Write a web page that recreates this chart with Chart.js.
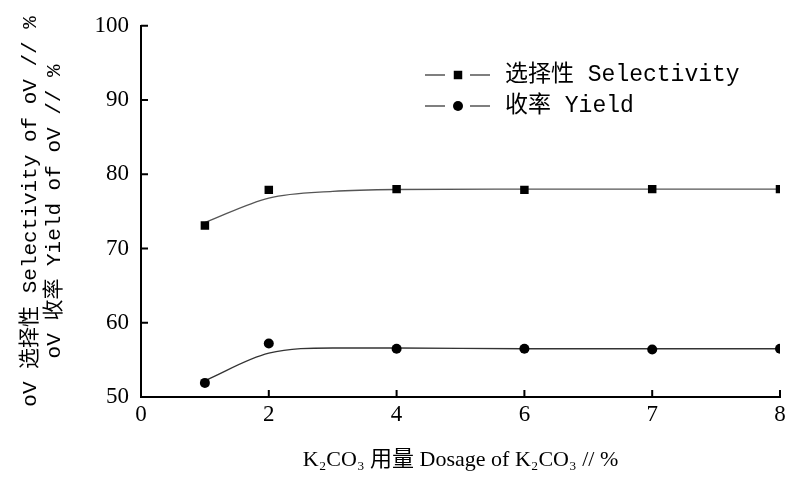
<!DOCTYPE html>
<html>
<head>
<meta charset="utf-8">
<script src="https://cdn.jsdelivr.net/npm/chart.js@4"></script>
<style>
  html, body { margin: 0; padding: 0; background: #fff; }
  #wrap { width: 792px; height: 477px; }
</style>
</head>
<body>
<div id="wrap"><canvas id="k2co3Chart" width="792" height="477"></canvas></div>
<script>
// axis labels (equally spaced on the original figure)
const xTickLabels = ["0", "2", "4", "6", "7", "8"];
const yMin = 50, yMax = 100;

// measured points
const dosage = [1, 2, 4, 6, 7, 8];
const selectivity = [73.1, 77.9, 78.0, 77.9, 78.0, 78.0];
const yieldVals = [51.9, 57.2, 56.5, 56.5, 56.4, 56.5];

// fitted curves
const fitDosage = [1, 2, 3, 4, 6, 7, 8];
const selectivityFit = [73.5, 76.8, 77.7, 77.95, 78.0, 78.0, 78.0];
const yieldFit = [52.2, 55.9, 56.6, 56.6, 56.5, 56.5, 56.5];

const serif = "'Liberation Serif', 'Noto Sans CJK SC', serif";
const mono = "'Liberation Mono', 'Noto Sans CJK SC', monospace";

// position of a dosage on the (non-uniform) x axis
function axisPos(d) {
  const nums = xTickLabels.map(Number);
  for (let i = 0; i < nums.length - 1; i++) {
    if (d >= nums[i] && d <= nums[i + 1]) {
      return i + (d - nums[i]) / (nums[i + 1] - nums[i]);
    }
  }
  return nums.length - 1;
}

const pts = (xs, ys) => xs.map((d, i) => ({ x: axisPos(d), y: ys[i] }));

// inward tick marks
const inwardTicks = {
  id: "inwardTicks",
  afterDatasetsDraw(chart) {
    const ctx = chart.ctx;
    const xs = chart.scales.x, ys = chart.scales.y;
    ctx.save();
    ctx.strokeStyle = "#000";
    ctx.lineWidth = 2;
    ctx.beginPath();
    xs.ticks.forEach((t, i) => {
      if (i === 0) return;
      const px = xs.getPixelForValue(t.value);
      ctx.moveTo(px, ys.bottom);
      ctx.lineTo(px, ys.bottom - 7);
    });
    ys.ticks.forEach((t, i) => {
      if (i === 0) return;
      const py = ys.getPixelForValue(t.value);
      ctx.moveTo(xs.left, py);
      ctx.lineTo(xs.left + 7, py);
    });
    ctx.stroke();
    ctx.restore();
  }
};

// legend drawn as —■— text
const lineLegend = {
  id: "lineLegend",
  afterDraw(chart) {
    const ctx = chart.ctx;
    const items = [
      { ds: chart.data.datasets[0], text: "选择性 Selectivity", y: 75 },
      { ds: chart.data.datasets[1], text: "收率 Yield", y: 106 }
    ];
    ctx.save();
    items.forEach(it => {
      ctx.strokeStyle = "#000";
      ctx.lineWidth = 1.2;
      ctx.beginPath();
      ctx.moveTo(425, it.y); ctx.lineTo(445, it.y);
      ctx.moveTo(470, it.y); ctx.lineTo(490, it.y);
      ctx.stroke();
      Chart.helpers.drawPoint(ctx, {
        pointStyle: it.ds.pointStyle,
        radius: it.ds.pointRadius,
        borderWidth: 0
      }, 458, it.y);
      ctx.fillStyle = "#000";
      ctx.font = "23px " + mono;
      ctx.textBaseline = "middle";
      ctx.textAlign = "left";
      ctx.fillText(it.text, 505, it.y);
    });
    ctx.restore();
  }
};

new Chart(document.getElementById("k2co3Chart"), {
  type: "scatter",
  data: {
    datasets: [
      {
        label: "选择性 Selectivity",
        data: pts(dosage, selectivity),
        pointStyle: "rect",
        pointRadius: 6,
        backgroundColor: "#000",
        borderWidth: 0,
        showLine: false
      },
      {
        label: "收率 Yield",
        data: pts(dosage, yieldVals),
        pointStyle: "circle",
        pointRadius: 5,
        backgroundColor: "#000",
        borderWidth: 0,
        showLine: false
      },
      {
        label: "fit1",
        data: pts(fitDosage, selectivityFit),
        showLine: true,
        pointRadius: 0,
        borderColor: "#555",
        borderWidth: 1.3,
        cubicInterpolationMode: "monotone"
      },
      {
        label: "fit2",
        data: pts(fitDosage, yieldFit),
        showLine: true,
        pointRadius: 0,
        borderColor: "#333",
        borderWidth: 1.3,
        cubicInterpolationMode: "monotone"
      }
    ]
  },
  options: {
    responsive: false,
    animation: false,
    layout: { padding: { left: 0, right: 12, top: 24, bottom: 0 } },
    plugins: {
      legend: { display: false },
      tooltip: { enabled: false }
    },
    scales: {
      x: {
        type: "linear",
        min: 0,
        max: xTickLabels.length - 1,
        afterFit: s => { s.height = 80; },
        border: { color: "#000", width: 2 },
        grid: { display: false, drawTicks: false },
        ticks: {
          stepSize: 1,
          autoSkip: false,
          maxRotation: 0,
          color: "#000",
          padding: 4,
          font: { family: serif, size: 23 },
          callback: v => xTickLabels[v]
        },
        title: {
          display: true,
          text: "K₂CO₃ 用量 Dosage of K₂CO₃ // %",
          color: "#000",
          font: { family: serif, size: 22 },
          padding: { top: 12 }
        }
      },
      y: {
        min: yMin,
        max: yMax,
        afterFit: s => { s.width = 141; },
        border: { color: "#000", width: 2 },
        grid: { display: false, drawTicks: false },
        ticks: {
          stepSize: 10,
          color: "#000",
          padding: 12,
          font: { family: serif, size: 23 }
        },
        title: {
          display: true,
          text: ["oV 选择性 Selectivity of oV // %", "oV 收率 Yield of oV // %"],
          color: "#000",
          font: { family: mono, size: 21, lineHeight: 1.15 },
          padding: { top: 18, bottom: 0 }
        }
      }
    }
  },
  plugins: [inwardTicks, lineLegend]
});
</script>
</body>
</html>
